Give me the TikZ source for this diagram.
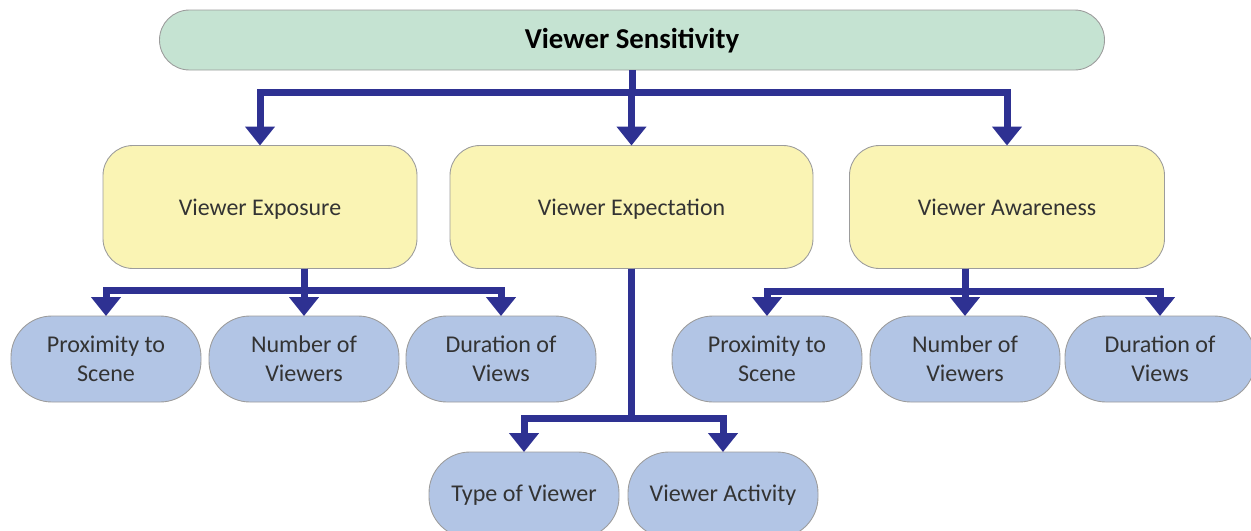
\documentclass[tikz,border=0pt]{standalone}
\usepackage{fontspec}
\setmainfont{Carlito}
\usepackage{tikz}
\usetikzlibrary{arrows.meta,positioning,calc}
\definecolor{vnavy}{HTML}{2E3192}
\definecolor{vgreen}{HTML}{C5E3D2}
\definecolor{vyellow}{HTML}{FAF4B4}
\definecolor{vblue}{HTML}{B2C5E5}
\definecolor{vedge}{HTML}{9C9C9C}
\definecolor{vtext}{HTML}{333333}
\tikzset{
  topb/.style={draw=vedge,fill=vgreen,rounded corners=0.6cm,line width=0.5pt,minimum width=18.9cm,minimum height=1.2cm,outer sep=0pt,text=black,text height=2.4ex,text depth=0.3ex,font=\fontsize{16.4}{19}\selectfont\bfseries},
  midb/.style={draw=vedge,fill=vyellow,rounded corners=0.6cm,line width=0.5pt,minimum height=2.46cm,outer sep=0pt,text=vtext,text height=2.4ex,text depth=0.3ex,font=\fontsize{13.6}{16}\selectfont},
  leaf/.style={draw=vedge,fill=vblue,rounded corners=0.82cm,line width=0.5pt,minimum width=3.8cm,minimum height=1.72cm,outer sep=0pt,align=center,text=vtext,font=\fontsize{13.7}{16.4}\selectfont},
  arr/.style={-{Triangle[length=0.38cm,width=0.58cm]},line width=0.14cm,draw=vnavy},
}
\begin{document}
\begin{tikzpicture}
  \useasboundingbox (0,0) rectangle (25.02,-10.62);
  % top and middle level
  \node[topb] (vs) at (12.64,-0.8) {Viewer Sensitivity};
  \node[midb,minimum width=6.28cm] (vx) at (5.2,-4.14) {Viewer Exposure};
  \node[midb,minimum width=7.26cm] (ve) at (12.63,-4.14) {Viewer Expectation};
  \node[midb,minimum width=6.3cm] (va) at (20.14,-4.14) {Viewer Awareness};
  \foreach \c in {vx,ve,va} { \draw[arr] (vs.south) -- ++(0,-0.44) -| (\c.north); }
  % leaves
  \foreach \n/\x/\y/\t in {xp/2.12/-7.18/{Proximity to\\Scene},xn/6.08/-7.18/{Number of\\Viewers},xd/10.02/-7.18/{Duration of\\Views},
    ap/15.34/-7.18/{Proximity to\\Scene},an/19.3/-7.18/{Number of\\Viewers},ad/23.2/-7.18/{Duration of\\Views},
    et/10.48/-9.9/{Type of Viewer},ea/14.46/-9.9/{Viewer Activity}} {
    \node[leaf] (\n) at (\x,\y) {\t};
  }
  \foreach \c in {xp,xn,xd} { \draw[arr] (vx.south -| xn.north) -- ++(0,-0.44) -| (\c.north); }
  \foreach \c in {ap,an,ad} { \draw[arr] (va.south -| an.north) -- ++(0,-0.46) -| (\c.north); }
  \foreach \c in {et,ea} { \draw[arr] (ve.south) -- ++(0,-3.0) -| (\c.north); }
\end{tikzpicture}
\end{document}
